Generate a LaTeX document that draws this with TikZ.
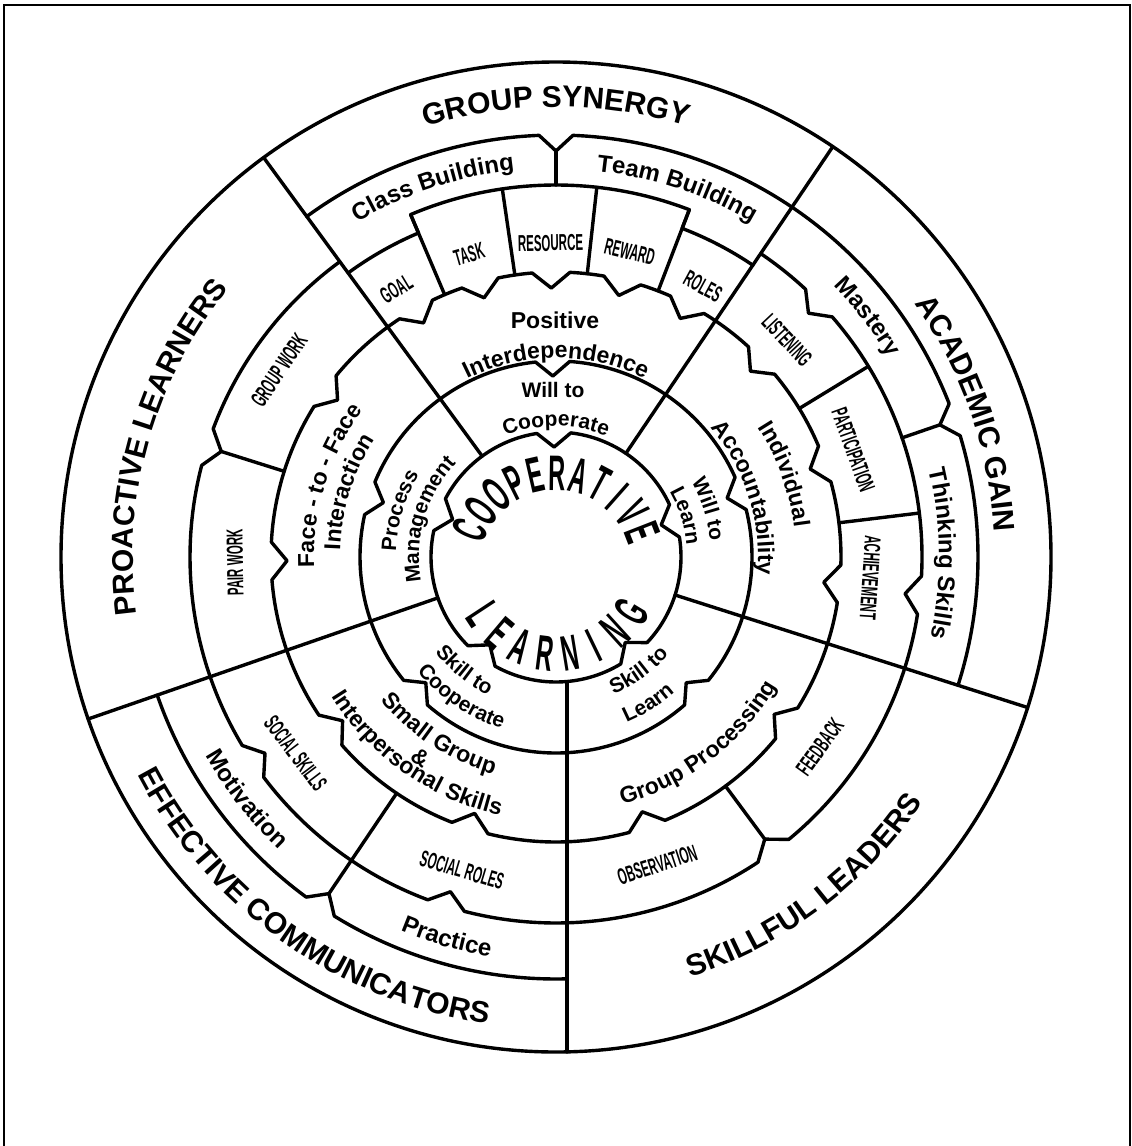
\documentclass[tikz,border=0pt]{standalone}
\usepackage{fontspec}
\setmainfont{Liberation Sans}
\usetikzlibrary{decorations.text}
\newcommand\fA{\bfseries\fontsize{30}{30}\selectfont}
\newcommand\fB{\bfseries\fontsize{24}{24}\selectfont}
\newcommand\fC{\bfseries\fontsize{23}{23}\selectfont}
\newcommand\fD{\bfseries\fontsize{21}{21}\selectfont}
% frown text: clockwise arc, baseline radius #2
\newcommand\arctop[5]{%
  \pgfmathsetmacro\myS{#1+#3}\pgfmathsetmacro\myE{#1-#3}%
  \path[decorate,decoration={text along path,text align=center,text={|#4|#5}}]
    (\myS:#2pt) arc[start angle=\myS,end angle=\myE,radius=#2pt];}
% smile text: counterclockwise arc
\newcommand\arcbot[5]{%
  \pgfmathsetmacro\myS{#1-#3}\pgfmathsetmacro\myE{#1+#3}%
  \path[decorate,decoration={text along path,text align=center,text={|#4|#5}}]
    (\myS:#2pt) arc[start angle=\myS,end angle=\myE,radius=#2pt];}
% closed notched ring: radius, half width (deg), depth, first notch, pairs
\newcommand\closedring[5]{%
  \pgfmathsetmacro\myRin{#1-#3}%
  \pgfmathsetmacro\myS{#4+#2}%
  \draw[ring] (\myS:#1pt) \foreach \xa/\xb [evaluate=\xa as \nA using \xa+#2, evaluate=\xb as \nB using \xb-#2, evaluate=\xb as \nC using \xb+#2] in {#5}
    { arc[start angle=\nA,end angle=\nB,radius=#1pt] -- (\xb:\myRin pt) -- (\nC:#1pt) } -- cycle;}
\begin{document}
\begin{tikzpicture}[x=1pt,y=1pt,
  ring/.style={line width=3.4pt,line join=round,line cap=round},
  lab/.style={font=\fC,inner sep=0pt},
  labs/.style={font=\fD,inner sep=0pt},
  cnd/.style={font=\bfseries\fontsize{23}{23}\selectfont,inner sep=0pt,rotate=#1,xscale=0.5},
  bg/.style={font=\bfseries\fontsize{50}{50}\selectfont,inner sep=0pt,rotate=#1,xscale=0.47}]
\useasboundingbox (0,0) rectangle (1132,-1146);
\fill[white] (0,0) rectangle (1132,-1146);
\draw[line width=1.8pt] (4,-1146) -- (4,-5) -- (1130,-5) -- (1130,-1146);
\begin{scope}[shift={(556,-557)}]
% outer circle
\draw[ring] (0,0) circle[radius=495pt];
% inner rings with notches
\closedring{125}{7.8}{15}{17}{17/91,91/160,160/233,233/309,309/377}
\closedring{196}{5}{15}{19}{19/91,91/162.5,162.5/224,224/316,316/379}
\closedring{285}{3.8}{16}{-71.3}{-71.3/-35.8,-35.8/-5.4,-5.4/19.1,19.1/43.7,43.7/62.5,62.5/76.5,76.5/91,91/105.5,105.5/119.5,119.5/144.3,144.3/180.8,180.8/217.5,217.5/252.4,252.4/288.7}
% ring 4 outer boundary
\draw[ring] (56:352pt) arc[start angle=56,end angle=69,radius=352pt] -- (69:372pt)
  arc[start angle=69,end angle=113,radius=372pt] -- (113:352pt)
  arc[start angle=113,end angle=126.2,radius=352pt];
\draw[ring] (126.2:366pt) arc[start angle=126.2,end angle=159.5,radius=366pt] -- (162.5:351pt) -- (165.5:366pt)
  arc[start angle=165.5,end angle=211,radius=366pt] -- (214:351pt) -- (217:366pt)
  arc[start angle=217,end angle=249.5,radius=366pt] -- (252.5:351pt) -- (255.5:366pt)
  arc[start angle=255.5,end angle=303.5,radius=366pt] -- (306.5:351pt) -- (309.5:366pt)
  arc[start angle=309.5,end angle=351,radius=366pt] -- (354:351pt) -- (357:366pt)
  arc[start angle=357,end angle=401,radius=366pt] -- (404:351pt) -- (407:366pt)
  arc[start angle=407,end angle=416,radius=366pt];
% ring 5 outer boundary (three sectors)
\draw[ring] (56:422pt) arc[start angle=56,end angle=87.7,radius=422pt] -- (90:406pt) -- (92.3:422pt)
  arc[start angle=92.3,end angle=126.2,radius=422pt];
\draw[ring] (-17.7:422pt) arc[start angle=-17.7,end angle=16.7,radius=422pt] -- (19:406pt) -- (21.3:422pt)
  arc[start angle=21.3,end angle=56,radius=422pt];
\draw[ring] (199.1:422pt) arc[start angle=199.1,end angle=233.7,radius=422pt] -- (236:406pt) -- (238.3:422pt)
  arc[start angle=238.3,end angle=271.5,radius=422pt];
% ring 5 dividers
\draw[ring] (90:406pt) -- (90:372pt);
\draw[ring] (19:406pt) -- (19:366pt);
\draw[ring] (236:406pt) -- (236:285pt);
% ring 4 dividers
\foreach \ang/\ro in {113/372,98.3/372,83.7/372,69/372,31.4/366,6.9/366,-53.5/351,162.5/351}
  \draw[ring] (\ang:285pt) -- (\ang:\ro pt);
% five sector lines
\draw[ring] (126.2:125pt) -- (126.2:495pt);
\draw[ring] (56:125pt) -- (56:495pt);
\draw[ring] (-17.7:125pt) -- (-17.7:495pt);
\draw[ring] (199.1:125pt) -- (199.1:495pt);
\draw[ring] (11,-125.5) -- (11,-494.9);
% outer labels
\arctop{90}{450}{40}{\fA}{GROUP SYNERGY}
\arctop{19.2}{439}{40}{\fA}{ACADEMIC GAIN}
\arctop{164.2}{423}{40}{\fA}{PROACTIVE LEARNERS}
\arcbot{-53}{441}{40}{\fA}{SKILLFUL LEADERS}
\arcbot{234.6}{472}{40}{\fA}{EFFECTIVE COMMUNICATORS}
% ring 5 labels
\arctop{108.4}{389}{30}{\fB}{Class Building}
\arctop{71.8}{388}{30}{\fB}{Team Building}
\arctop{37.6}{388}{30}{\fB}{Mastery}
\arctop{0.5}{383}{30}{\fB}{Thinking Skills}
\arcbot{218}{403}{30}{\fB}{Motivation}
\arcbot{254}{405}{30}{\fB}{Practice}
% ring 4 labels
\node[cnd=30.8] (goal) at (120.8:312pt) {GOAL};
\node[cnd=16] (task) at (106:315pt) {TASK};
\node[cnd=1] (resource) at (91:314pt) {RESOURCE};
\node[cnd=-13.6] (reward) at (76.4:314pt) {REWARD};
\node[cnd=-28.5] (roles) at (61.5:308pt) {ROLES};
\node[cnd=-46.8] (listening) at (43.2:317pt) {LISTENING};
\node[cnd=-70.2] (particip) at (19.8:316pt) {PARTICIPATION};
\node[cnd=-93.8] (achieve) at (-3.8:315pt) {ACHIEVEMENT};
\node[cnd=54.3] (feedback) at (-35.7:325pt) {FEEDBACK};
\node[cnd=18.2] (observ) at (-71.8:324pt) {OBSERVATION};
\node[cnd=-16.7] (socroles) at (253.3:327pt) {SOCIAL ROLES};
\node[cnd=-53] (socskills) at (217:326pt) {SOCIAL SKILLS};
\node[cnd=91] (pairwork) at (181:321pt) {PAIR WORK};
\node[cnd=56] (groupwork) at (146:334pt) {GROUP WORK};
% ring 3 labels
\node[lab] (positive) at (-1,237) {Positive};
\arctop{90}{199}{50}{\fC}{Interdependence}
\arctop{19.9}{240}{45}{\fC}{Individual}
\arctop{17.5}{202}{50}{\fC}{Accountability}
\arcbot{-52.7}{256}{45}{\fC}{Group Processing}
\arcbot{236.6}{226}{45}{\fC}{Small Group}
\node[lab,rotate=-34] (amp) at (236:242pt) {\&};
\arcbot{234.8}{264}{45}{\fC}{Interpersonal Skills}
\arctop{162.6}{242}{45}{\fC}{Face - to - Face}
\arctop{162.6}{216}{45}{\fC}{Interaction}
% ring 2 labels
\node[labs] (willto) at (-3,167) {Will to};
\arctop{90}{131}{50}{\fD}{Cooperate}
\arctop{17.5}{155}{50}{\fD}{Will to}
\arctop{17.5}{131}{50}{\fD}{Learn}
\arcbot{-54}{149}{50}{\fD}{Skill to}
\arcbot{-57.8}{180}{50}{\fD}{Learn}
\arcbot{231}{154}{50}{\fD}{Skill to}
\arcbot{236}{180}{50}{\fD}{Cooperate}
\arctop{163.5}{160}{50}{\fD}{Process}
\arctop{163.5}{137}{55}{\fD}{Management}
% centre
\begin{scope}[shift={(0,-9)}]
\foreach \ch [count=\i from 0] in {C,O,O,P,E,R,A,T,I,V,E}{
  \pgfmathsetmacro\ang{157.3-13.6*\i}
  \node[bg=\ang-90] (co\i) at (\ang:93pt) {\ch};}
\foreach \ch [count=\i from 0] in {L,E,A,R,N,I,N,G}{
  \pgfmathsetmacro\ang{213.3+16.5*\i}
  \node[bg=\ang+90] (le\i) at (\ang:88pt) {\ch};}
\end{scope}
\end{scope}
\end{tikzpicture}
\end{document}
